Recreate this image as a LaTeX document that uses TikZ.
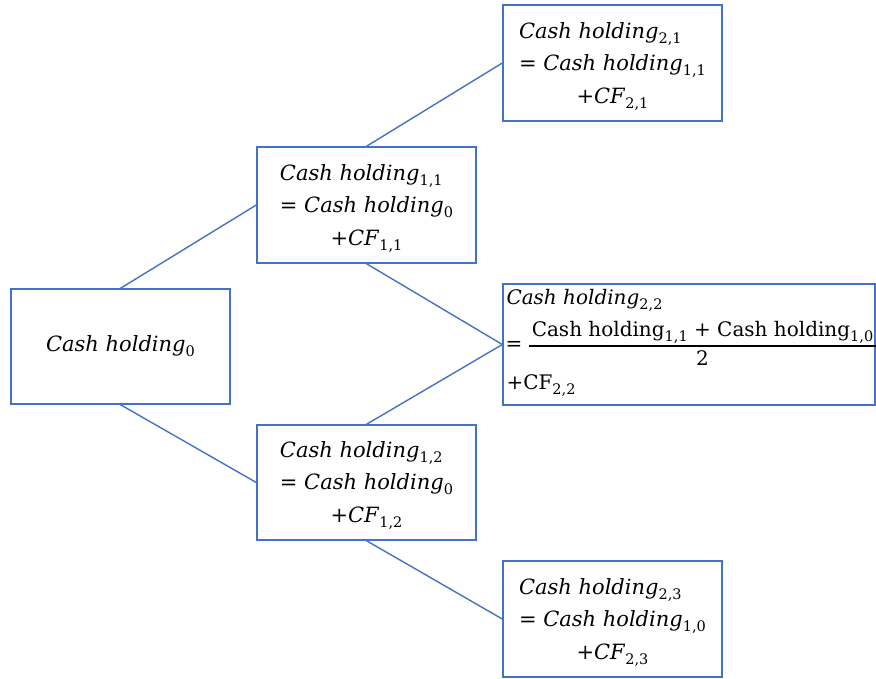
\documentclass[tikz,border=0pt]{standalone}
\usepackage{fontspec}
\setmainfont{DejaVu Serif}
\definecolor{obl}{HTML}{4472C4}
\newcommand\sub[1]{\raisebox{-0.45ex}{\fontsize{14.5}{16}\selectfont #1}}
\newcommand\ch[1]{\textit{Cash holding}\sub{#1}}
\newcommand\chu[1]{Cash holding\sub{#1}}
\newcommand\three[3]{\begin{tabular}{@{}l@{}}#1\\#2\end{tabular}\\[7pt]#3}
\begin{document}
\begin{tikzpicture}[x=1pt,y=-1pt,
  box/.style={draw=obl, line width=1.4pt, rectangle, minimum width=219pt, minimum height=116pt, inner sep=0pt, align=center, font=\fontsize{21}{32}\selectfont},
  conn/.style={draw=obl, line width=1.4pt},
  txt/.style={inner sep=0pt, font=\fontsize{20}{32}\selectfont}]
\useasboundingbox (0,0) rectangle (876,679);
\node[box, minimum height=115pt] (A) at (120.5,346.5) {\ch{0}};
\node[box] (B) at (366.5,205) {\three{\ch{1,1}}{= \ch{0}}{+\textit{CF}\sub{1,1}}};
\node[box, minimum height=115pt] (C) at (366.5,482.5) {\three{\ch{1,2}}{= \ch{0}}{+\textit{CF}\sub{1,2}}};
\node[box] (D) at (612.5,63) {\three{\ch{2,1}}{= \ch{1,1}}{+\textit{CF}\sub{2,1}}};
\node[box, minimum width=372pt, minimum height=121pt] (E) at (689,344.5) {};
\node[box] (F) at (612.5,619) {\three{\ch{2,3}}{= \ch{1,0}}{+\textit{CF}\sub{2,3}}};
% contents of E
\node[txt, anchor=west] (e1) at ([xshift=4pt,yshift=-17pt]E.north west) {\ch{2,2}};
\node[txt, anchor=west] (e2) at ([xshift=3pt,yshift=-1pt]E.west) {=};
\node[txt, anchor=base] (e3) at ([xshift=13.5pt,yshift=8pt]E.center) {\chu{1,1} + \chu{1,0}};
\node[txt, anchor=north] (e4) at ([xshift=13.5pt,yshift=-6pt]E.center) {2};
\node[txt, anchor=west] (e5) at ([xshift=4pt,yshift=20pt]E.south west) {+CF\sub{2,2}};
\draw[line width=1.2pt] ([xshift=27pt,yshift=-1.5pt]E.west) -- ([yshift=-1.5pt]E.east);
% connectors
\draw[conn] (A.north) -- (B.west);
\draw[conn] (A.south) -- (C.west);
\draw[conn] (B.north) -- (D.west);
\draw[conn] (B.south) -- (E.west);
\draw[conn] (C.north) -- (E.west);
\draw[conn] (C.south) -- (F.west);
\end{tikzpicture}
\end{document}
